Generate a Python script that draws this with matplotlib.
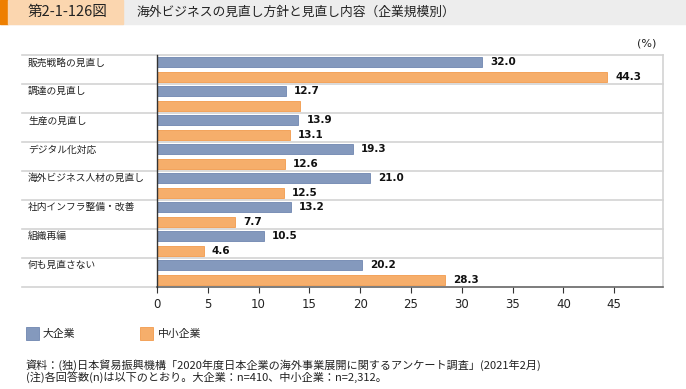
import matplotlib
matplotlib.use("Agg")
import matplotlib.pyplot as plt
from matplotlib.patches import Rectangle
import numpy as np

plt.rcParams['font.family'] = ['Noto Sans CJK JP', 'DejaVu Sans']

categories = ["販売戦略の見直し", "調達の見直し", "生産の見直し", "デジタル化対応",
              "海外ビジネス人材の見直し", "社内インフラ整備・改善", "組織再編", "何も見直さない"]
large = [32.0, 12.7, 13.9, 19.3, 21.0, 13.2, 10.5, 20.2]
sme = [44.3, 14.1, 13.1, 12.6, 12.5, 7.7, 4.6, 28.3]
# the source leaves the label off one bar
sme_labelled = [True, False, True, True, True, True, True, True]
series_names = ["大企業", "中小企業"]
xticks = [0, 5, 10, 15, 20, 25, 30, 35, 40, 45]

BLUE = "#8499BD"
BLUE_EDGE = "#6F86B0"
ORANGE = "#F6AE6B"
ORANGE_EDGE = "#F29B4C"

W, H = 686, 389
fig = plt.figure(figsize=(W / 100, H / 100), dpi=100)

# title bar
fig.patches.append(Rectangle((0, 1 - 24 / H), 1, 24 / H, transform=fig.transFigure,
                             color="#EDEDED", zorder=0))
fig.patches.append(Rectangle((0, 1 - 24 / H), 8 / W, 24 / H, transform=fig.transFigure,
                             color="#EE7F00", zorder=1))
fig.patches.append(Rectangle((8 / W, 1 - 24 / H), 115 / W, 24 / H, transform=fig.transFigure,
                             color="#FBD6AF", zorder=1))
fig.text(67 / W, 1 - 12 / H, "第2-1-126図", ha="center", va="center", fontsize=10.5,
         color="#222222")
fig.text(137 / W, 1 - 12 / H, "海外ビジネスの見直し方針と見直し内容（企業規模別）",
         ha="left", va="center", fontsize=9.2, color="#222222")

# axes
left, right, top, bottom = 157, 663, 55, 287
ax = fig.add_axes([left / W, 1 - bottom / H, (right - left) / W, (bottom - top) / H])
n = len(categories)
ax.set_xlim(0, 49.8)
ax.set_ylim(n, 0)

pos = np.arange(n)
bh = 0.34
ax.barh(pos + 0.25, large, height=bh, color=BLUE, edgecolor=BLUE_EDGE, linewidth=0.6, zorder=3)
ax.barh(pos + 0.745, sme, height=bh, color=ORANGE, edgecolor=ORANGE_EDGE, linewidth=0.6, zorder=3)

for i in range(n):
    ax.text(large[i] + 0.8, i + 0.25, f"{large[i]:.1f}", va="center", ha="left",
            fontsize=7.5, fontweight="bold", family="DejaVu Sans", color="#111111")
    if sme_labelled[i]:
        ax.text(sme[i] + 0.8, i + 0.745, f"{sme[i]:.1f}", va="center", ha="left",
                fontsize=7.5, fontweight="bold", family="DejaVu Sans", color="#111111")
    ax.text(-0.255, i + 0.08, categories[i], transform=ax.get_yaxis_transform(),
            ha="left", va="top", fontsize=7, color="#222222")

# category separators
x0 = (22 - left) / (right - left)
for i in range(0, n):
    ax.axhline(i, xmin=x0, xmax=1, color="#D3D3D3", linewidth=1.2, clip_on=False, zorder=1)
ax.axhline(n, xmin=x0, xmax=0, color="#D3D3D3", linewidth=1.2, clip_on=False, zorder=1)

ax.spines["top"].set_visible(False)
ax.spines["right"].set_color("#D3D3D3")
ax.spines["right"].set_linewidth(1.2)
ax.spines["left"].set_color("#333333")
ax.spines["left"].set_linewidth(1.0)
ax.spines["bottom"].set_color("#666666")
ax.spines["bottom"].set_linewidth(1.2)
ax.spines["left"].set_zorder(4)

ax.set_yticks([])
ax.set_xticks(xticks)
ax.set_xticklabels([str(t) for t in xticks], family="DejaVu Sans")
ax.tick_params(axis="x", direction="out", length=4, width=0.8, color="#333333",
               labelsize=8.5, labelcolor="#222222", pad=4)

fig.text(656 / W, 1 - 44 / H, "(%)", ha="right", va="center", fontsize=8,
         family="DejaVu Sans", color="#222222")

# legend
for xs, xt, col, ec, name in [(26, 43, BLUE, BLUE_EDGE, series_names[0]),
                              (140, 158, ORANGE, ORANGE_EDGE, series_names[1])]:
    fig.patches.append(Rectangle((xs / W, 1 - 340 / H), 13 / W, 13 / H,
                                 transform=fig.transFigure, facecolor=col,
                                 edgecolor=ec, linewidth=0.6))
    fig.text(xt / W, 1 - 333.5 / H, name, ha="left", va="center",
             fontsize=7.8, color="#222222")

fig.text(26 / W, 1 - 365 / H,
         "資料：(独)日本貿易振興機構「2020年度日本企業の海外事業展開に関するアンケート調査」(2021年2月)",
         ha="left", va="center", fontsize=8, color="#222222")
fig.text(26 / W, 1 - 378 / H,
         "(注)各回答数(n)は以下のとおり。大企業：n=410、中小企業：n=2,312。",
         ha="left", va="center", fontsize=8, color="#222222")

fig.savefig("out.png", dpi=100)
